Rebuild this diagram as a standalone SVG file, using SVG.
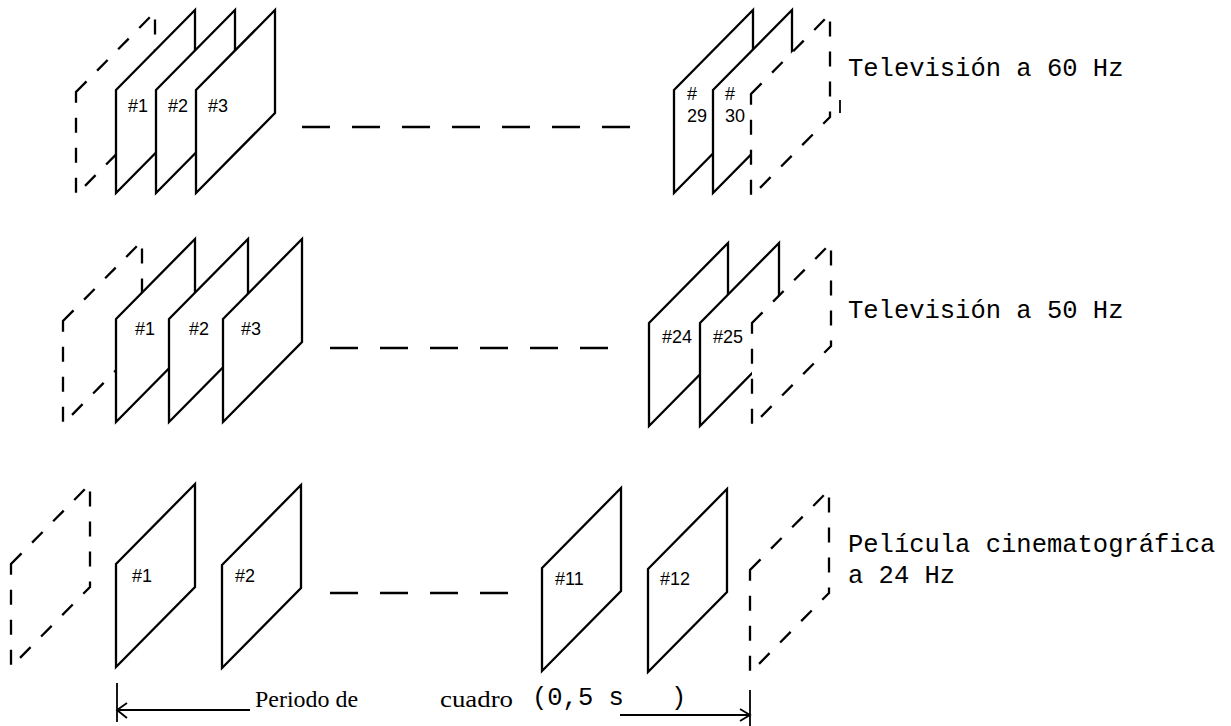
<svg xmlns="http://www.w3.org/2000/svg" width="1231" height="726" viewBox="0 0 1231 726">
<defs>
<style>
.f{fill:#fff;stroke:#000;stroke-width:2.3;stroke-linejoin:miter}
.d{fill:#fff;stroke:#000;stroke-width:2.3;stroke-dasharray:15 15}
.n{font-family:"Liberation Sans",Arial,sans-serif;font-size:18px;fill:#000}
.lbl{font-family:"Liberation Mono","Courier New",monospace;font-size:25.5px;fill:#000}
.ser{font-family:"Liberation Serif","Times New Roman",serif;font-size:24px;fill:#000}
.c{fill:none;stroke:#000;stroke-width:2.3;stroke-dasharray:28 22}
.a{fill:none;stroke:#000;stroke-width:1.8}
</style>
<path id="fr" d="M0,80 L79,0 L79,103 L0,183 Z"/>
</defs>
<rect width="1231" height="726" fill="#fff"/>

<!-- Row 1: Television 60 Hz -->
<g id="tv60-prev"><use href="#fr" class="d" transform="translate(76,12)"/></g>
<g id="tv60-f1"><use href="#fr" class="f" transform="translate(116,10)"/><text class="n" x="128" y="112">#1</text></g>
<g id="tv60-f2"><use href="#fr" class="f" transform="translate(156,10)"/><text class="n" x="168" y="112">#2</text></g>
<g id="tv60-f3"><use href="#fr" class="f" transform="translate(196,10)"/><text class="n" x="208" y="112">#3</text></g>
<g id="tv60-f29"><use href="#fr" class="f" transform="translate(674,10)"/><text class="n" x="687" y="100">#</text><text class="n" x="687" y="122">29</text></g>
<g id="tv60-f30"><use href="#fr" class="f" transform="translate(713,10)"/><text class="n" x="725" y="100">#</text><text class="n" x="725" y="122">30</text></g>
<g id="tv60-next"><use href="#fr" class="d" transform="translate(751,14)"/></g>
<g id="tv60-label"><text class="lbl" x="848" y="76">Televisión a 60 Hz</text><path class="a" d="M840,100 V113"/></g>

<!-- Row 2: Television 50 Hz -->
<g id="tv50-prev"><use href="#fr" class="d" transform="translate(63,241)"/></g>
<g id="tv50-f1"><use href="#fr" class="f" transform="translate(116,239)"/><text class="n" x="135" y="335">#1</text></g>
<g id="tv50-f2"><use href="#fr" class="f" transform="translate(169,239)"/><text class="n" x="189" y="335">#2</text></g>
<g id="tv50-f3"><use href="#fr" class="f" transform="translate(223,239)"/><text class="n" x="241" y="335">#3</text></g>
<g id="tv50-f24"><use href="#fr" class="f" transform="translate(649,243)"/><text class="n" x="662" y="343">#24</text></g>
<g id="tv50-f25"><use href="#fr" class="f" transform="translate(700,243)"/><text class="n" x="713" y="343">#25</text></g>
<g id="tv50-next"><use href="#fr" class="d" transform="translate(752,243)"/></g>
<g id="tv50-label"><text class="lbl" x="848" y="318">Televisión a 50 Hz</text></g>

<!-- Row 3: Film 24 Hz -->
<g id="film-prev"><use href="#fr" class="d" transform="translate(11,484)"/></g>
<g id="film-f1"><use href="#fr" class="f" transform="translate(116,484)"/><text class="n" x="132" y="582">#1</text></g>
<g id="film-f2"><use href="#fr" class="f" transform="translate(222,485)"/><text class="n" x="235" y="582">#2</text></g>
<g id="film-f11"><use href="#fr" class="f" transform="translate(542,488)"/><text class="n" x="555" y="585">#11</text></g>
<g id="film-f12"><use href="#fr" class="f" transform="translate(648,489)"/><text class="n" x="660" y="585">#12</text></g>
<g id="film-next"><use href="#fr" class="d" transform="translate(750,490)"/></g>
<g id="film-label"><text class="lbl" x="848" y="552">Película cinematográfica</text><text class="lbl" x="848" y="583">a 24 Hz</text></g>

<!-- Connectors -->
<g id="connectors">
<path class="c" d="M302,127 H648"/>
<path class="c" d="M330,348 H622"/>
<path class="c" d="M330,593 H515"/>
<path class="a" d="M117,683 V722 M117,710 H250 M127,703 L117,710 L127,718"/>
<path class="a" d="M750,690 V726 M620,715 H750 M740,709 L750,715 L740,721"/>
</g>

<g id="period-label">
<text class="ser" x="255" y="707" textLength="103" lengthAdjust="spacingAndGlyphs">Periodo de</text>
<text class="ser" x="440" y="707" textLength="73" lengthAdjust="spacingAndGlyphs">cuadro</text>
<text class="lbl" x="532" y="705">(0,5 s</text>
<text class="lbl" x="671" y="705">)</text>
</g>
</svg>
